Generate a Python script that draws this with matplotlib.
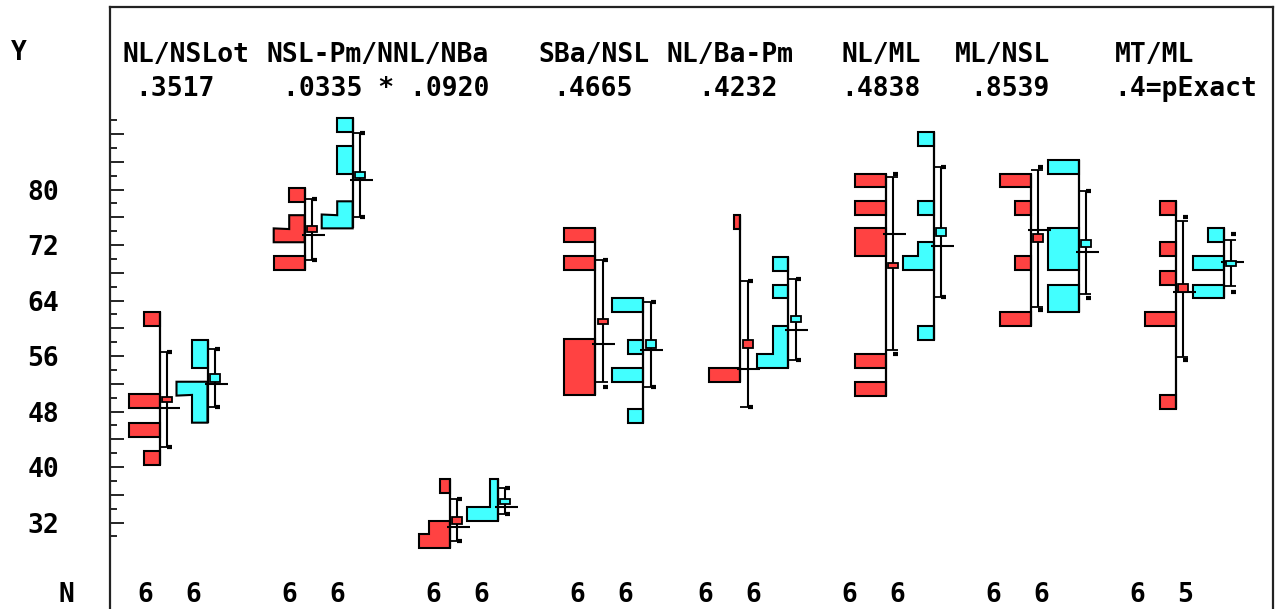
import numpy as np
import matplotlib.pyplot as plt
from matplotlib.patches import Polygon, Rectangle
from matplotlib.ticker import FuncFormatter

plt.rcParams["font.family"] = ["DejaVu Sans Mono"]
plt.rcParams["font.weight"] = "bold"

W, H = 1279, 609

comparisons = ["NL/NSLot", "NSL-Pm/NNL/NBa", "SBa/NSL", "NL/Ba-Pm", "NL/ML", "ML/NSL", "MT/ML"]
p_values = [".3517", ".0335 * .0920", ".4665", ".4232", ".4838", ".8539", ".4=pExact"]

# one entry per sample, samples alternate red / cyan
bins = [
    [61.4, 49.5, 45.4, 41.3],
    [57.3, 55.3, 51.3, 49.4, 47.4],
    [79.2, 75.3, 73.4, 69.4],
    [89.3, 85.3, 83.3, 77.3, 75.4],
    [37.3, 31.3, 29.3],
    [37.3, 35.3, 33.3],
    [73.4, 69.4, 57.4, 55.4, 53.4, 51.4],
    [63.3, 57.3, 53.3, 47.4],
    [75.3, 53.3],
    [69.3, 65.3, 59.3, 57.3, 55.3],
    [81.3, 77.3, 73.4, 71.4, 55.3, 51.3],
    [87.3, 77.3, 71.4, 69.4, 59.3],
    [81.3, 77.3, 69.4, 61.3],
    [83.3, 73.4, 71.4, 69.4, 65.3, 63.3],
    [77.3, 71.4, 67.3, 61.3, 49.4],
    [73.4, 69.4, 65.3],
]
counts = [
    [1, 2, 2, 1],
    [1, 1, 2, 1, 1],
    [1, 1, 2, 2],
    [1, 1, 1, 1, 2],
    [1, 2, 3],
    [1, 1, 4],
    [1, 1, 1, 1, 1, 1],
    [2, 1, 2, 1],
    [1, 5],
    [1, 1, 1, 1, 2],
    [1, 1, 1, 1, 1, 1],
    [1, 1, 1, 2, 1],
    [2, 1, 1, 2],
    [1, 1, 1, 1, 1, 1],
    [1, 1, 1, 2, 1],
    [1, 2, 2],
]
means = [49.8, 52.8, 74.3, 82.1, 32.3, 35.0, 61.0, 57.7,
         57.7, 61.3, 69.05, 73.85, 73.0, 72.2, 65.8, 69.4]
sd_lo = [42.9, 48.6, 69.9, 76.0, 29.3, 33.3, 52.2, 51.5,
         48.6, 55.5, 56.9, 64.5, 63.1, 64.9, 55.9, 66.1]
sd_hi = [56.6, 57.0, 78.6, 88.2, 35.4, 37.0, 69.9, 63.8,
         66.8, 67.1, 81.8, 83.2, 82.8, 79.8, 75.5, 72.7]
ci_lo = [42.9, 48.6, 69.9, 76.0, 29.3, 33.3, 51.6, 51.5,
         48.6, 55.5, 56.25, 64.5, 62.6, 64.3, 55.4, 65.3]
ci_hi = [56.6, 57.0, 78.6, 88.2, 35.4, 37.0, 69.9, 63.8,
         66.8, 67.1, 82.3, 83.2, 83.3, 79.8, 76.1, 73.6]
medians = [48.5, 52.0, 73.5, 81.4, 31.4, 34.3, 57.7, 56.9,
           54.2, 59.7, 73.6, 71.9, 74.2, 70.95, 65.3, 69.5]
box_h = [0.72, 1.15, 0.9, 0.95, 1.05, 0.68, 0.82, 1.1,
         1.1, 0.9, 0.82, 1.1, 1.2, 1.1, 1.05, 0.72]

colors = ["#ff4242", "#42ffff"]

# layout (pixel units on x)
label_cols = [9, 12, 18, 21, 27, 30, 36, 39, 44, 47, 53, 56, 62, 65, 71, 74]
head_right = [249, 489, 649, 794, 921, 1050, 1194]
pval_right = [215, 489, 633, 778, 921, 1050, 1257]

fig = plt.figure(figsize=(W / 100, H / 100), dpi=100)
ax = fig.add_axes([110 / W, 0, 1163 / W, 602 / H])
ax.set_xlim(110, 1273)
ax.set_ylim(19.55, 106.3)

for i in range(len(bins)):
    col = colors[i % 2]
    sx = 159.5 + 145.2 * (i // 2) + 48 * (i % 2)
    order = np.argsort(bins[i])
    b = np.array(bins[i])[order]
    c = np.array(counts[i])[order]
    unit = 31 / c.max()
    # contiguous runs -> one outline each
    runs, cur = [], [0]
    for k in range(1, len(b)):
        if b[k] - b[k - 1] < 2.5:
            cur.append(k)
        else:
            runs.append(cur)
            cur = [k]
    runs.append(cur)
    for run in runs:
        verts = [(sx, b[run[0]] - 1)]
        for k in run:
            verts += [(sx - c[k] * unit, b[k] - 1), (sx - c[k] * unit, b[k] + 1)]
        verts.append((sx, b[run[-1]] + 1))
        ax.add_patch(Polygon(verts, closed=True, fc=col, ec="black", lw=1.5, joinstyle="miter"))
    ax.vlines(sx, b.min() - 1, b.max() + 1, color="black", lw=1.6)

    ex = sx + 7.5
    ax.hlines(medians[i], sx - 3, sx + 20, color="black", lw=1.5)
    ax.vlines(ex, sd_lo[i], sd_hi[i], color="black", lw=1.5)
    ax.hlines([sd_lo[i], sd_hi[i]], sx, ex + 5, color="black", lw=1.3)
    ax.hlines([ci_lo[i], ci_hi[i]], ex, ex + 5, color="black", lw=3)
    ax.add_patch(Rectangle((ex - 5, means[i] - box_h[i] / 2), 10, box_h[i],
                           fc=col, ec="black", lw=1.3, zorder=3))

    n = int(sum(counts[i]))
    fig.text((16 * label_cols[i] + 1) / W, 1 - 602.5 / H, str(n),
             ha="center", va="baseline", fontsize=19)

# axes frame and ticks
for side in ["left", "top", "right"]:
    ax.spines[side].set_linewidth(1.6)
    ax.spines[side].set_color("#222222")
ax.spines["bottom"].set_visible(False)
ax.set_xticks([])
ax.set_yticks(np.arange(32, 89, 4))
ax.set_yticks(np.arange(30, 91, 2), minor=True)
ax.yaxis.set_major_formatter(FuncFormatter(lambda v, p: f"{v:.0f}" if v % 8 == 0 and v <= 80 else ""))
ax.tick_params(axis="y", which="major", direction="in", length=10, width=1.2,
               pad=36.5, labelsize=19)
ax.tick_params(axis="y", which="minor", direction="in", length=4.8, width=1.2)

for txt, xr in zip(comparisons, head_right):
    fig.text(xr / W, 1 - 62.5 / H, txt, ha="right", va="baseline", fontsize=19)
for txt, xr in zip(p_values, pval_right):
    fig.text(xr / W, 1 - 95.5 / H, txt, ha="right", va="baseline", fontsize=19)

fig.text(19 / W, 1 - 60 / H, "Y", ha="center", va="baseline", fontsize=19)
fig.text(66 / W, 1 - 602.5 / H, "N", ha="center", va="baseline", fontsize=19)

plt.savefig("out.png", dpi=100)
plt.close(fig)
